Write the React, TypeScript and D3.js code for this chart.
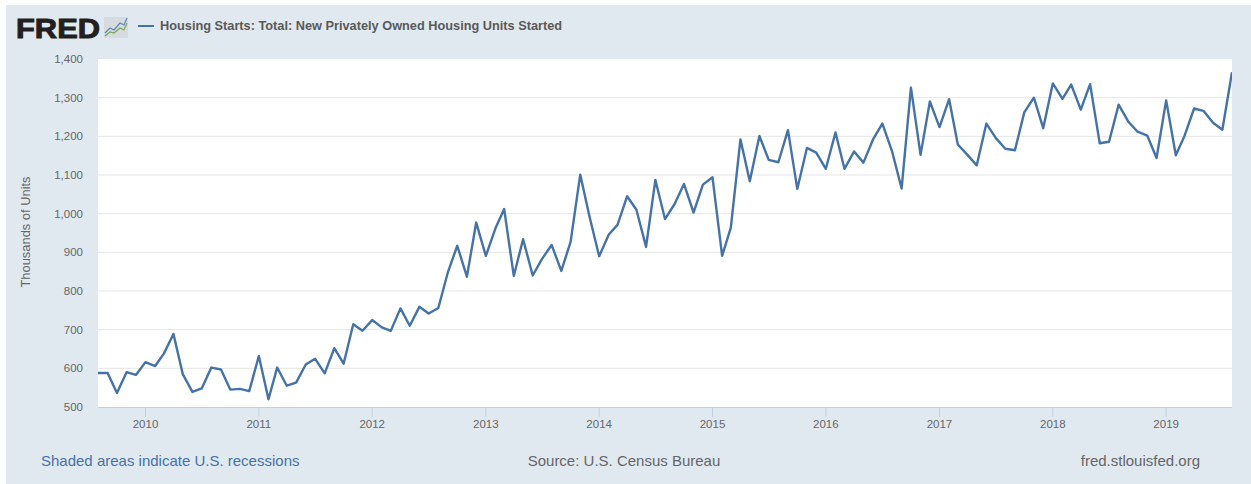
import React from "react";
import * as d3 from "d3";

const seriesName = "Housing Starts: Total: New Privately Owned Housing Units Started";
const yAxisTitle = "Thousands of Units";
const startMonth = new Date(Date.UTC(2009, 7, 1));
const values2009 = [588, 588, 536, 590, 583];
const values2010 = [616, 606, 638, 689, 585, 539, 548, 602, 597, 545, 547, 541];
const values2011 = [632, 520, 602, 555, 563, 610, 625, 587, 652, 612, 714, 697];
const values2012 = [725, 706, 697, 755, 710, 759, 742, 756, 849, 917, 837, 977];
const values2013 = [891, 962, 1012, 839, 934, 840, 883, 919, 852, 927, 1101, 992];
const values2014 = [890, 946, 971, 1045, 1010, 914, 1087, 986, 1025, 1077, 1003, 1075];
const values2015 = [1094, 891, 964, 1192, 1084, 1201, 1139, 1133, 1216, 1064, 1170, 1158];
const values2016 = [1116, 1210, 1116, 1161, 1132, 1192, 1233, 1162, 1065, 1326, 1152, 1290];
const values2017 = [1224, 1296, 1179, 1152, 1125, 1233, 1196, 1168, 1164, 1262, 1300, 1221];
const values2018 = [1337, 1297, 1334, 1269, 1335, 1182, 1186, 1282, 1238, 1212, 1202, 1144];
const values2019 = [1293, 1151, 1201, 1272, 1266, 1235, 1217, 1366];
const allValues = [
  ...values2009, ...values2010, ...values2011, ...values2012, ...values2013, ...values2014,
  ...values2015, ...values2016, ...values2017, ...values2018, ...values2019,
];
const yTicks = [500, 600, 700, 800, 900, 1000, 1100, 1200, 1300, 1400];
const xTickYears = [2010, 2011, 2012, 2013, 2014, 2015, 2016, 2017, 2018, 2019];

const W = 1251, H = 484;
const plot = { l: 98, r: 1232, t: 59, b: 407 };
const FONT = "'Liberation Sans', Arial, sans-serif";
const LINE = "#4572a7";

export default function App() {
  const dates = allValues.map((_, i) => d3.utcMonth.offset(startMonth, i));
  const x = d3.scaleUtc().domain([dates[0], dates[dates.length - 1]]).range([plot.l, plot.r]);
  const y = d3.scaleLinear().domain([500, 1400]).range([plot.b, plot.t]);
  const line = d3.line<number>().x((_, i) => x(dates[i])).y((v) => y(v));
  return (
    <svg width={W} height={H} style={{ position: "absolute", left: 0, top: 0, background: "#fff" }} fontFamily={FONT}>
      <rect x={6} y={5} width={W - 6} height={H - 5} fill="#e1e9f0" />
      <rect x={plot.l} y={plot.t} width={plot.r - plot.l} height={plot.b - plot.t} fill="#fff" />
      {yTicks.map((t) => (
        <g key={t}>
          {t > 500 && t < 1400 && <line x1={plot.l} x2={plot.r} y1={y(t)} y2={y(t)} stroke="#e6e6e6" />}
          <text x={83} y={y(t) + 4} textAnchor="end" fontSize={11.5} fill="#666">{d3.format(",")(t)}</text>
        </g>
      ))}
      <line x1={plot.l} x2={plot.r} y1={plot.b + 0.5} y2={plot.b + 0.5} stroke="#c0d0e0" />
      {xTickYears.map((yr) => {
        const px = x(new Date(Date.UTC(yr, 0, 1)));
        return (
          <g key={yr}>
            <line x1={px} x2={px} y1={plot.b} y2={plot.b + 10} stroke="#c0d0e0" />
            <text x={px} y={428} textAnchor="middle" fontSize={11.5} fill="#666">{yr}</text>
          </g>
        );
      })}
      <text transform={`translate(30,232) rotate(-90)`} textAnchor="middle" fontSize={12.9} fill="#666">{yAxisTitle}</text>
      <clipPath id="plotClip"><rect x={plot.l} y={plot.t} width={plot.r - plot.l} height={plot.b - plot.t} /></clipPath>
      <path d={line(allValues) ?? ""} fill="none" stroke={LINE} strokeWidth={2.4} strokeLinejoin="round" clipPath="url(#plotClip)" />

      <text x={16} y={38} fontSize={28} fontWeight={700} fill="#231f20" stroke="#231f20" strokeWidth={1} textLength={84} lengthAdjust="spacingAndGlyphs">FRED</text>
      <rect x={104} y={17} width={24} height={21} fill="#d5dbdf" />
      <polyline points="105,33 110,28 114,30 120,23 124,25 127,18" fill="none" stroke="#5f86b5" strokeWidth={1.2} />
      <polyline points="105,36 110,32 114,33 120,28 124,30 127,23" fill="none" stroke="#76a755" strokeWidth={1.2} />
      <line x1={138} x2={154} y1={26} y2={26} stroke={LINE} strokeWidth={2} />
      <text x={160} y={30} fontSize={12.75} fontWeight={700} fill="#595959">{seriesName}</text>

      <text x={41} y={466} fontSize={15} fill="#4572a7">Shaded areas indicate U.S. recessions</text>
      <text x={624} y={466} textAnchor="middle" fontSize={15} fill="#666">Source: U.S. Census Bureau</text>
      <text x={1200} y={466} textAnchor="end" fontSize={15} fill="#666">fred.stlouisfed.org</text>
    </svg>
  );
}
